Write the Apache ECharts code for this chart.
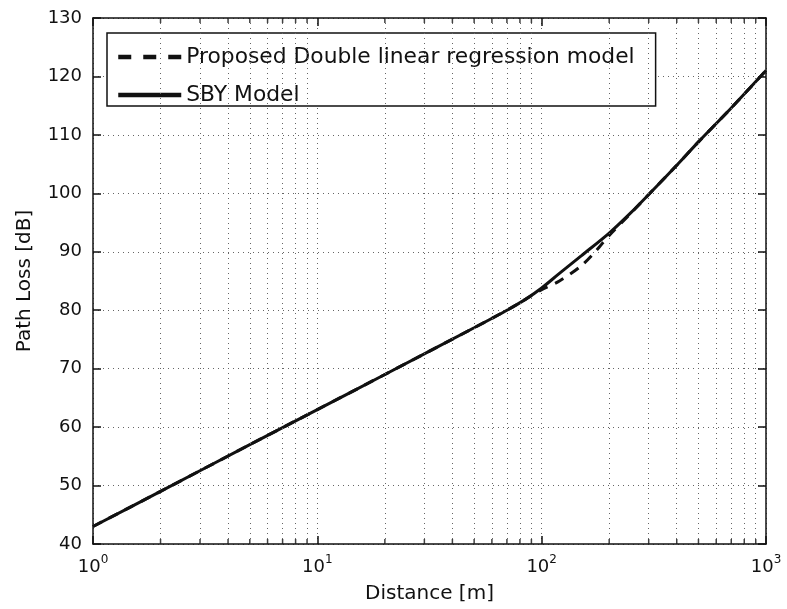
<!DOCTYPE html>
<html>
<head>
<meta charset="utf-8">
<script src="https://cdn.jsdelivr.net/npm/echarts@6/dist/echarts.min.js"></script>
<style>html,body{margin:0;padding:0;background:#fff;}#c{width:787px;height:609px;}</style>
</head>
<body>
<div id="c"></div>
<script>
// ---- data ----
const sbyDistance = [1, 2, 5, 10, 20, 50, 70, 85, 100, 120, 150, 200, 250, 300, 400, 500, 700, 1000];
const sbyLoss     = [43, 49, 57, 63, 69, 77, 80, 81.9, 83.8, 86.3, 89.3, 93.2, 96.7, 99.8, 104.8, 108.8, 114.6, 121];
const dlrDistance = [1, 2, 5, 10, 20, 50, 70, 85, 100, 120, 150, 175, 200, 250, 300, 400, 500, 700, 1000];
const dlrLoss     = [43, 49, 57, 63, 69, 77, 80, 81.9, 83.5, 85.0, 87.6, 90.2, 92.8, 96.6, 99.8, 104.8, 108.8, 114.6, 121];
const seriesNames = ['Proposed Double linear regression model', 'SBY Model'];
const yTicks = [40, 50, 60, 70, 80, 90, 100, 110, 120, 130];
const xMinor = [2,3,4,5,6,7,8,9,20,30,40,50,60,70,80,90,200,300,400,500,600,700,800,900];

const FONT = 'DejaVu Sans';
const gridDot = {color: '#666', width: 1, type: [1, 4]};

const zip = (a, b) => a.map((v, i) => [v, b[i]]);

const chart = echarts.init(document.getElementById('c'), null, {renderer: 'canvas'});
const common = {min: 1, max: 1000, logBase: 10, type: 'log'};
chart.setOption({
  animation: false,
  backgroundColor: '#fff',
  textStyle: {fontFamily: FONT},
  grid: {left: 93, right: 21, top: 18, bottom: 64, show: false},
  legend: {
    left: 107, top: 33,
    orient: 'vertical',
    data: [
      {name: seriesNames[0], lineStyle: {type: [13, 12], width: 4.5, color: '#111'}},
      {name: seriesNames[1], lineStyle: {type: 'solid', width: 4.5, color: '#111'}}
    ],
    itemWidth: 63, itemHeight: 14, itemGap: 16,
    padding: [13, 21, 0, 9],
    borderColor: '#111', borderWidth: 1.5,
    backgroundColor: '#fff',
    itemStyle: {opacity: 0},
    textStyle: {fontFamily: FONT, fontSize: 21.8, color: '#111', lineHeight: 18},
    selectedMode: false
  },
  xAxis: [
    Object.assign({}, common, {
      position: 'bottom',
      name: 'Distance [m]', nameLocation: 'middle', nameGap: 40,
      nameTextStyle: {fontFamily: FONT, fontSize: 20, color: '#111'},
      axisLine: {show: true, onZero: false, lineStyle: {color: '#111', width: 1.5}},
      axisTick: {show: true, inside: true, length: 8, lineStyle: {color: '#111', width: 1.5}},
      splitLine: {show: true, lineStyle: gridDot},
      axisLabel: {
        margin: 10,
        formatter: v => '{b|10}{s|' + Math.round(Math.log10(v)) + '}',
        rich: {
          b: {fontFamily: FONT, fontSize: 18, color: '#111'},
          s: {fontFamily: FONT, fontSize: 12, color: '#111', padding: [0, 0, 14, 0]}
        }
      }
    }),
    Object.assign({}, common, {
      position: 'top',
      axisLine: {show: true, onZero: false, lineStyle: {color: '#111', width: 1.5}},
      axisTick: {show: true, inside: true, length: 8, lineStyle: {color: '#111', width: 1.5}},
      axisLabel: {show: false},
      splitLine: {show: false}
    })
  ],
  yAxis: [
    {
      type: 'value', min: 40, max: 130, interval: 10, position: 'left',
      name: 'Path Loss [dB]', nameLocation: 'middle', nameGap: 58, nameRotate: 90,
      nameTextStyle: {fontFamily: FONT, fontSize: 20, color: '#111'},
      axisLine: {show: true, onZero: false, lineStyle: {color: '#111', width: 1.5}},
      axisTick: {show: true, inside: true, length: 8, lineStyle: {color: '#111', width: 1.5}},
      splitLine: {show: true, lineStyle: gridDot},
      axisLabel: {fontFamily: FONT, fontSize: 18, color: '#111', margin: 11,
        formatter: v => yTicks.includes(v) ? String(v) : ''}
    },
    {
      type: 'value', min: 40, max: 130, interval: 10, position: 'right',
      axisLine: {show: true, onZero: false, lineStyle: {color: '#111', width: 1.5}},
      axisTick: {show: true, inside: true, length: 8, lineStyle: {color: '#111', width: 1.5}},
      axisLabel: {show: false},
      splitLine: {show: false}
    }
  ],
  series: [
    {
      name: 'minorTicksBottom', type: 'scatter', silent: true, z: 5,
      xAxisIndex: 0, yAxisIndex: 0,
      data: xMinor.map(v => [v, 40]),
      symbol: 'rect', symbolSize: [1.5, 5], symbolOffset: [0, -2.5],
      itemStyle: {color: '#111'},
      markLine: {
        silent: true, symbol: 'none', label: {show: false},
        lineStyle: gridDot,
        data: xMinor.map(v => ({xAxis: v}))
      }
    },
    {
      name: 'minorTicksTop', type: 'scatter', silent: true, z: 5,
      xAxisIndex: 0, yAxisIndex: 0,
      data: xMinor.map(v => [v, 130]),
      symbol: 'rect', symbolSize: [1.5, 5], symbolOffset: [0, 2.5],
      itemStyle: {color: '#111'}
    },
    {
      name: seriesNames[1], type: 'line', xAxisIndex: 0, yAxisIndex: 0,
      data: zip(sbyDistance, sbyLoss),
      symbol: 'none', smooth: 0.3, z: 3,
      lineStyle: {color: '#111', width: 3, type: 'solid'},
      itemStyle: {color: '#111'}
    },
    {
      name: seriesNames[0], type: 'line', xAxisIndex: 0, yAxisIndex: 0,
      data: zip(dlrDistance, dlrLoss),
      symbol: 'none', smooth: 0.3, z: 4,
      lineStyle: {color: '#111', width: 3, type: [10, 8]},
      itemStyle: {color: '#111'}
    }
  ]
});
</script>
</body>
</html>
